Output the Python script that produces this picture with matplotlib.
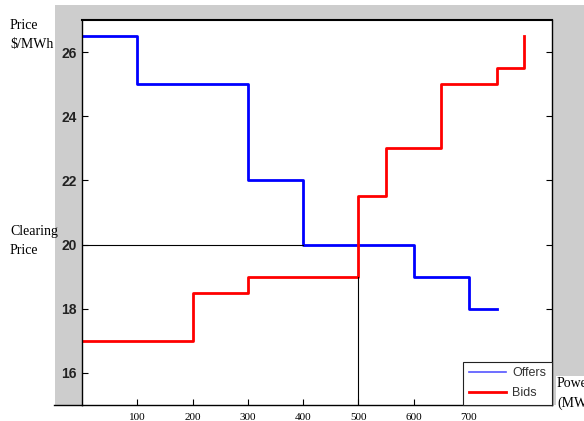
import matplotlib.pyplot as plt
from matplotlib.lines import Line2D
from matplotlib.patches import Rectangle

# offer and bid curves (step edges in MW, price in $/MWh)
offer_mw = [0, 100, 300, 400, 600, 700, 750]
offer_price = [26.5, 25, 22, 20, 19, 18, 18]
bid_mw = [0, 200, 300, 500, 550, 650, 750, 800]
bid_price = [17, 18.5, 19, 21.5, 23, 25, 25.5, 26.5]

clearing_price = 20
clearing_mw = 500
xticks = [100, 200, 300, 400, 500, 600, 700]
yticks = [16, 18, 20, 22, 24, 26]

fig = plt.figure(figsize=(5.84, 4.21), dpi=100)
fig.patches.append(Rectangle((55 / 584, 1 - 405 / 421), 1 - 55 / 584, 400 / 421,
                             transform=fig.transFigure, facecolor='#cdcdcd',
                             edgecolor='none', zorder=-5))

ax = fig.add_axes([82 / 584, 1 - 405 / 421, 470 / 584, 385 / 421])
ax.set_facecolor('white')
ax.set_zorder(1)

ax.step(offer_mw, offer_price, where='post', color='#0000ff', lw=2)
ax.step(bid_mw, bid_price, where='post', color='#ff0000', lw=2)

# clearing point guides
ax.plot([0, 400], [clearing_price, clearing_price], color='black', lw=0.8)
ax.plot([clearing_mw, clearing_mw], [15, 19], color='black', lw=0.8)

ax.set_xlim(0, 850)
ax.set_ylim(15, 27)
ax.set_xticks(xticks)
ax.set_xticklabels([str(v) for v in xticks], fontfamily='Liberation Serif', fontsize=8)
ax.set_yticks(yticks)
ax.set_yticklabels([str(v) for v in yticks], fontfamily='Liberation Sans',
                   fontsize=10, fontweight='bold', color='#222222')
ax.tick_params(axis='both', direction='in', length=4, width=0.8, right=True)
ax.tick_params(axis='x', pad=6)
ax.tick_params(axis='y', pad=4)
for s in ax.spines.values():
    s.set_linewidth(1.0)
ax.spines['top'].set_linewidth(1.5)

# bottom axis line carries on to the left over the gray panel
fig.lines.append(Line2D([54 / 584, 82 / 584], [1 - 405 / 421] * 2,
                        transform=fig.transFigure, color='black', lw=1.0))

handles = [Line2D([], [], color='#5555ff', lw=1.2), Line2D([], [], color='#ff0000', lw=2)]
leg = ax.legend(handles, ['Offers', 'Bids'], loc='lower right', fancybox=False,
                edgecolor='#222222', framealpha=1, borderaxespad=0,
                prop={'family': 'Liberation Sans', 'size': 9}, handlelength=3.0,
                borderpad=0.45, labelspacing=0.65, handletextpad=0.5)
leg.get_frame().set_linewidth(0.8)
for t in leg.get_texts():
    t.set_color('#333333')

serif = {'family': 'Liberation Serif', 'size': 10}
fig.text(10 / 584, 1 - 19 / 421, 'Price\n$/MWh', va='top', ha='left',
         fontdict=serif, linespacing=1.6)
fig.text(10 / 584, 1 - 225 / 421, 'Clearing\nPrice', va='top', ha='left',
         fontdict=serif, linespacing=1.6)
fig.text(557 / 584, 1 - 377 / 421, 'Power\n(MW)', va='top', ha='left',
         fontdict=serif, linespacing=1.6,
         bbox=dict(facecolor='white', edgecolor='none', pad=1))

plt.savefig('out.png', dpi=100)
